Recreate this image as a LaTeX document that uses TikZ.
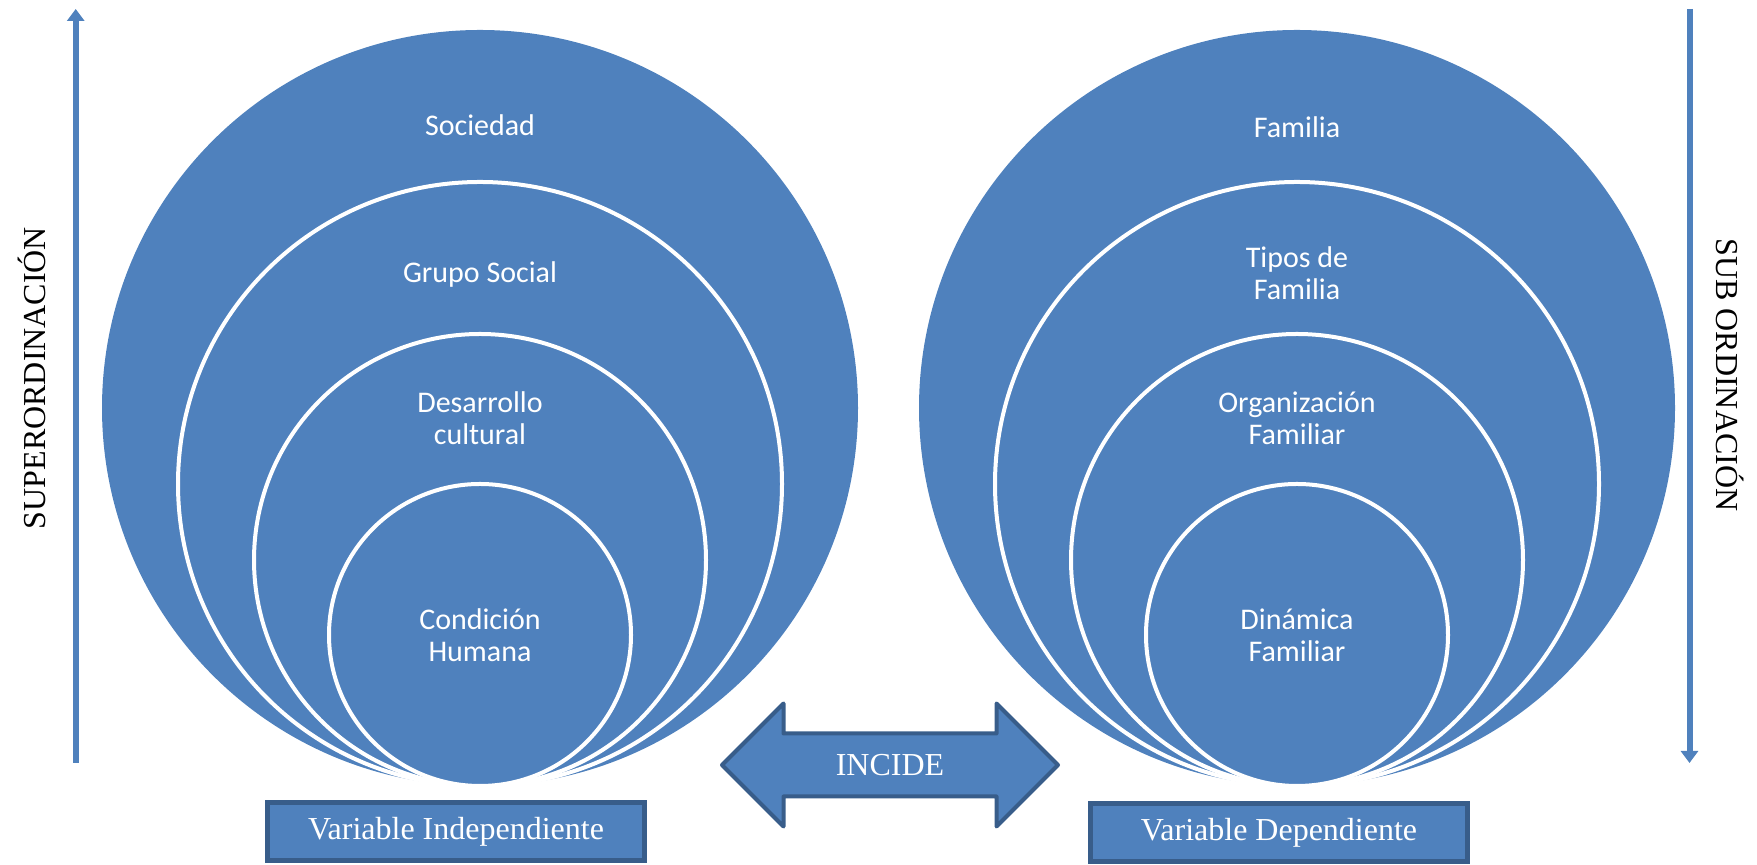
\documentclass[tikz,border=0pt]{standalone}
\usepackage{fontspec}
\setmainfont{Liberation Serif}
\newfontfamily\calfont{Carlito}
\usetikzlibrary{shapes.arrows, arrows.meta}
\definecolor{azul}{HTML}{4F81BD}
\definecolor{azulosc}{HTML}{385D8A}
\tikzset{disco/.style={circle, fill=azul, inner sep=0pt},
         anillo/.style={disco, draw=white, line width=2pt},
         rotulo/.style={text=white, align=center, font=\calfont\fontsize{15}{16}\selectfont},
         varcaja/.style={draw=azulosc, fill=azul, line width=2.5pt, minimum width=188.5pt, minimum height=29pt, inner sep=0pt, text=white, font=\fontsize{16}{19}\selectfont},
         eje/.style={draw=azul, line width=3pt, -{Triangle[width=8.5pt,length=6pt]}},
         lateral/.style={font=\fontsize{16}{19}\selectfont},
        }

\begin{document}
\begin{tikzpicture}[x=0.5pt,y=0.5pt]
    \useasboundingbox (0,0) rectangle (1757,865);
    % variable independiente
    \node[disco, minimum size=378pt](soc)at(480,457){};
    \node[anillo, minimum size=302pt](gru)at(480,381){};
    \node[anillo, minimum size=226pt](des)at(480,305){};
    \node[anillo, minimum size=151pt](con)at(480,230){};
    \node[rotulo](lsoc)at(480,740){Sociedad};
    \node[rotulo](lgru)at(480,590){Grupo Social};
    \node[rotulo](ldes)at(480,447){Desarrollo\\cultural};
    \node[rotulo](lcon)at(480,230){Condición\\Humana};
    % variable dependiente
    \node[disco, minimum size=378pt](fam)at(1297,457){};
    \node[anillo, minimum size=302pt](tip)at(1297,381){};
    \node[anillo, minimum size=226pt](org)at(1297,305){};
    \node[anillo, minimum size=151pt](din)at(1297,230){};
    \node[rotulo](lfam)at(1297,738){Familia};
    \node[rotulo](ltip)at(1297,592){Tipos de\\Familia};
    \node[rotulo](lorg)at(1297,447){Organización\\Familiar};
    \node[rotulo](ldin)at(1297,230){Dinámica\\Familiar};

    \node[varcaja](vi)at(456,33){Variable Independiente};
    \node[varcaja](vd)at(1279,32){Variable Dependiente};
    \node[double arrow, draw=azulosc, fill=azul, line width=2pt, line join=round,
          minimum height=168pt, double arrow head extend=15pt, inner sep=0pt,
          text height=20pt, text depth=9.5pt, text=white, lateral](incide)at(890,100){INCIDE};

    \coordinate(sb)at(75.7,102);
    \coordinate(st)at(75.7,856);
    \coordinate(dt)at(1689.5,856);
    \coordinate(db)at(1689.5,102);
    \draw[eje](sb)--(st);
    \draw[eje](dt)--(db);
    \node[lateral, rotate=90](sup)at(32,487){SUPERORDINACIÓN};
    \node[lateral, rotate=-90](sub)at(1730,490){SUB ORDINACIÓN};
\end{tikzpicture}
\end{document}
